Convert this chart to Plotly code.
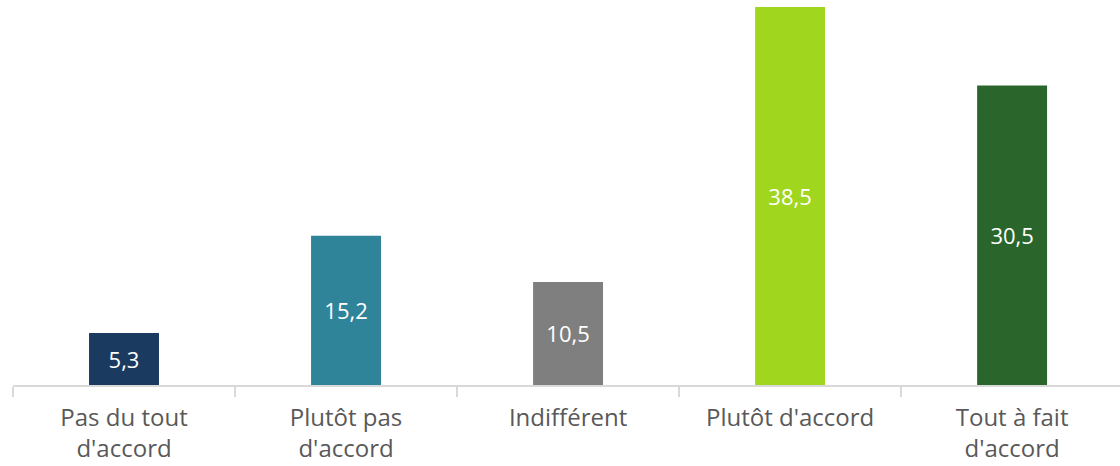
import plotly.graph_objects as go

categories = ["Pas du tout<br>d'accord", "Plutôt pas<br>d'accord", "Indifférent",
              "Plutôt d'accord", "Tout à fait<br>d'accord"]
values = [5.3, 15.2, 10.5, 38.5, 30.5]
value_labels = ["5,3", "15,2", "10,5", "38,5", "30,5"]
colors = ["#1b3a60", "#2f8499", "#7f7f7f", "#a0d61e", "#2a662c"]

fig = go.Figure(
    go.Bar(
        x=categories,
        y=values,
        text=value_labels,
        textposition="inside",
        insidetextanchor="middle",
        textangle=0,
        textfont=dict(family="Open Sans", size=22, color="#ffffff"),
        marker=dict(color=colors, line=dict(width=0)),
        hoverinfo="skip",
    )
)

fig.update_layout(
    width=1120,
    height=466,
    margin=dict(l=13, r=0, t=0, b=81),
    paper_bgcolor="#ffffff",
    plot_bgcolor="#ffffff",
    bargap=0.685,
    showlegend=False,
    uniformtext=dict(minsize=8, mode="show"),
)

fig.update_xaxes(
    type="category",
    range=[-0.5, 4.486],
    showline=True,
    linecolor="#d9d9d9",
    linewidth=2,
    ticks="outside",
    tickson="boundaries",
    ticklen=10,
    tickwidth=2,
    tickcolor="#d9d9d9",
    ticklabelstandoff=10,
    tickfont=dict(family="Open Sans", size=24, color="#595959"),
    showgrid=False,
    zeroline=False,
)

fig.update_yaxes(
    range=[0, 39.2],
    visible=False,
    showgrid=False,
    zeroline=False,
)

fig.write_html("out.html")
